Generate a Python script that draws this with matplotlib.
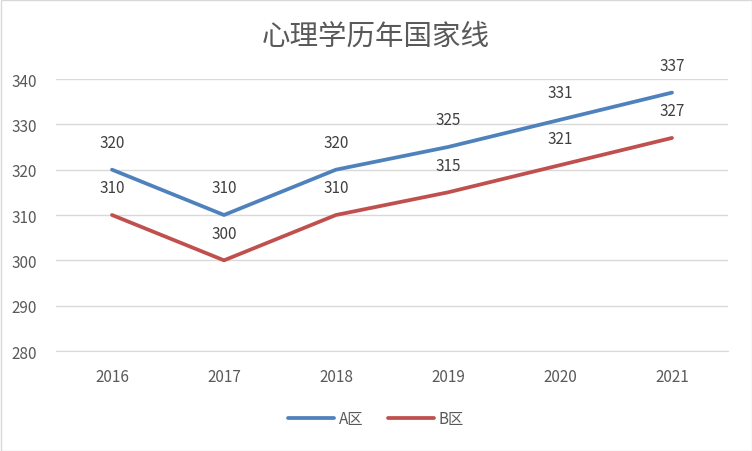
import matplotlib
matplotlib.use("Agg")
import matplotlib.pyplot as plt
from matplotlib.patches import Rectangle

plt.rcParams['font.family'] = ['Noto Sans CJK SC', 'DejaVu Sans']

years = ["2016", "2017", "2018", "2019", "2020", "2021"]
series_a = [320, 310, 320, 325, 331, 337]
series_b = [310, 300, 310, 315, 321, 327]
title = "心理学历年国家线"
name_a = "A区"
name_b = "B区"

fig = plt.figure(figsize=(7.52, 4.52), dpi=100)
ax = fig.add_axes([56/752, 1-352/452, 672/752, 272/452])

x = list(range(len(years)))
ca, cb = "#4F81BD", "#C0504D"
la, = ax.plot(x, series_a, color=ca, lw=2.7, solid_capstyle='round')
lb, = ax.plot(x, series_b, color=cb, lw=2.7, solid_capstyle='round')
for xi, v in zip(x, series_a):
    ax.annotate(str(v), (xi, v), xytext=(0, 19.5), textcoords='offset points',
                ha='center', va='center', fontsize=11, color='#404040')
for xi, v in zip(x, series_b):
    ax.annotate(str(v), (xi, v), xytext=(0, 19.5), textcoords='offset points',
                ha='center', va='center', fontsize=11, color='#404040')

ax.set_xlim(-0.5, len(years) - 0.5)
ax.set_ylim(280, 340)
ax.set_yticks(range(280, 341, 10))
ax.set_xticks(x)
ax.set_xticklabels(years)
ax.grid(axis='y', color='#D9D9D9', lw=1)
ax.set_axisbelow(True)
for s in ['top', 'right', 'left']:
    ax.spines[s].set_visible(False)
ax.spines['bottom'].set_color('#D9D9D9')
ax.tick_params(axis='both', length=0, labelsize=11, labelcolor='#595959', pad=12)
ax.tick_params(axis='y', pad=14)

fig.text(0.5, 1-37/452, title, ha='center', va='center', fontsize=20.5, color='#595959')
fig.legend([la, lb], [name_a, name_b], loc='center', bbox_to_anchor=(0.5, 1-420/452),
           ncol=2, frameon=False, fontsize=11, handlelength=3.0, columnspacing=1.6,
           handletextpad=0.3, labelcolor='#595959')
fig.patches.append(Rectangle((0.5/752, 0.5/452), 751/752, 451/452, transform=fig.transFigure,
                             fill=False, edgecolor='#D9D9D9', lw=1))
fig.savefig("out.png", dpi=100)
